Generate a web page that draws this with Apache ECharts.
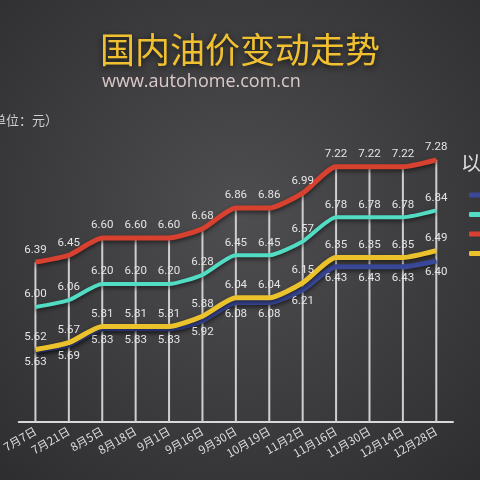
<!DOCTYPE html>
<html><head><meta charset="utf-8">
<script src="https://cdn.jsdelivr.net/npm/echarts@6/dist/echarts.min.js"></script>
<style>html,body{margin:0;padding:0;background:#3a3a3c}#c{width:480px;height:480px}</style>
</head><body><div id="c"></div>
<script>
const categories = ['7月7日','7月21日','8月5日','8月18日','9月1日','9月16日','9月30日','10月19日','11月2日','11月16日','11月30日','12月14日','12月28日'];
const seriesNames = ['89#汽油','92#汽油','95#汽油','0#柴油'];
const red = [6.39,6.45,6.60,6.60,6.60,6.68,6.86,6.86,6.99,7.22,7.22,7.22,7.28];
const teal = [6.00,6.06,6.20,6.20,6.20,6.28,6.45,6.45,6.57,6.78,6.78,6.78,6.84];
const yellow = [5.63,5.69,5.83,5.83,5.83,5.92,6.08,6.08,6.21,6.43,6.43,6.43,6.49];
const blue = [5.62,5.67,5.81,5.81,5.81,5.88,6.04,6.04,6.15,6.35,6.35,6.35,6.40];
const yellowLabels = ['5.62','5.67','5.81','5.81','5.81','5.88','6.04','6.04','6.15','6.35','6.35','6.35','6.49'];
const blueLabels = ['5.63','5.69','5.83','5.83','5.83','5.92','6.08','6.08','6.21','6.43','6.43','6.43','6.40'];
const yMin = 5, yMax = 8;

const chart = echarts.init(document.getElementById('c'));
const labelFont = {color:'#e4e4e4', fontSize:11.5, fontFamily:'Roboto'};
function lineSeries(name, data, color, width, labelPos, labels, z){
  return {
    name, type:'line', data, z,
    smooth:0.2, symbol:'circle', symbolSize:1, showSymbol:true,
    itemStyle:{color},
    lineStyle:{color, width, shadowBlur:4, shadowColor:'rgba(0,0,0,0.55)', shadowOffsetY:2},
    label:{show:true, position:labelPos, distance:labelPos==='top'?6:5, ...labelFont,
      formatter: labels ? (p)=>labels[p.dataIndex] : (p)=>p.value.toFixed(2)},
    emphasis:{disabled:true}, animation:false
  };
}
chart.setOption({
  backgroundColor:{type:'radial', x:0.5, y:0.45, r:0.8, colorStops:[{offset:0,color:'#4e4e51'},{offset:1,color:'#2b2b2d'}]},
  animation:false,
  title:[{text:'国内油价变动走势', left:'center', top:27,
    textStyle:{color:'#f0c030', fontSize:35, fontWeight:'normal', fontFamily:'Noto Sans CJK SC',
      textShadowBlur:6, textShadowColor:'rgba(0,0,0,0.7)', textShadowOffsetY:2}},
    {text:'www.autohome.com.cn', left:97, top:68,
    textStyle:{color:'#dccaca', fontSize:18, fontWeight:'normal', fontFamily:'Open Sans'}}],
  graphic:[
    {type:'text', left:-20, top:114, style:{text:'（单位：元）', fill:'#cfcfcf', font:'13px "Noto Sans CJK SC"'}},
    {type:'text', left:461, top:153, style:{text:'以北京为例', fill:'#dddddd', font:'20px "Noto Sans CJK SC"'}}
  ],
  legend:{orient:'vertical', left:464, top:183, icon:'roundRect', itemWidth:30, itemHeight:5, itemGap:5.5,
    data:seriesNames, textStyle:{color:'#ddd', fontSize:14, lineHeight:14}},
  grid:{left:-7.7, right:27, top:77, bottom:58},
  xAxis:{type:'category', data:categories, boundaryGap:true,
    axisLine:{lineStyle:{color:'#d8d8d8', width:2}}, axisTick:{show:false},
    axisLabel:{rotate:30, color:'#dcdcdc', fontSize:11.5, fontFamily:'Noto Sans CJK SC', interval:0, margin:8}},
  yAxis:{type:'value', min:yMin, max:yMax, show:false, splitLine:{show:false}},
  series:[
    {name:'drop', type:'bar', data:red, barWidth:2, itemStyle:{color:'#cfcfcf'}, z:1, silent:true, clip:true, animation:false},
    lineSeries(seriesNames[2], red, '#d8412f', 5, 'top', null, 5),
    lineSeries(seriesNames[1], teal, '#52dcc4', 4, 'top', null, 5),
    lineSeries(seriesNames[0], blue, '#3a4898', 5, 'bottom', blueLabels, 4),
    lineSeries(seriesNames[3], yellow, '#ecc22c', 5, 'top', yellowLabels, 5)
  ]
});
</script></body></html>
